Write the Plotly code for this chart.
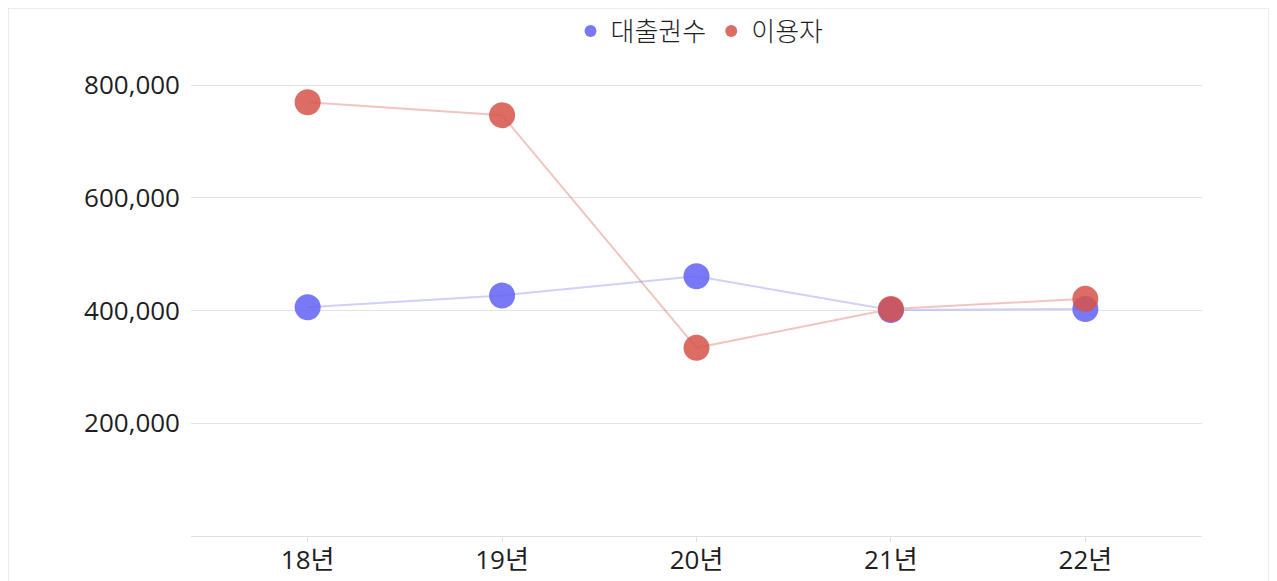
import plotly.graph_objects as go

categories = ["18년", "19년", "20년", "21년", "22년"]
loans = [406000, 427000, 461000, 401000, 403000]
users = [770000, 747000, 334000, 403000, 421000]
series_names = ["대출권수", "이용자"]
y_tick_vals = [200000, 400000, 600000, 800000]
y_tick_text = ["200,000", "400,000", "600,000", "800,000"]

FONT = "Open Sans, Noto Sans CJK KR"
blue = "rgba(98,98,245,0.85)"
red = "rgba(214,84,74,0.85)"
blue_line = "rgba(120,120,240,0.35)"
red_line = "rgba(220,110,95,0.4)"

xs = list(range(len(categories)))
fig = go.Figure()
for vals, name, mc, lc in [(loans, series_names[0], blue, blue_line), (users, series_names[1], red, red_line)]:
    fig.add_trace(go.Scatter(x=xs, y=vals, mode="lines", line=dict(color=lc, width=2),
                             showlegend=False, hoverinfo="skip"))
for vals, name, mc, lc in [(loans, series_names[0], blue, blue_line), (users, series_names[1], red, red_line)]:
    fig.add_trace(go.Scatter(x=xs, y=vals, mode="markers", name=name,
                             marker=dict(color=mc, size=26, line=dict(width=0))))

W, H = 1262, 573
L, R, T, B = 183, 68, 10, 45
pw, ph = W - L - R, H - T - B
tick_font = dict(family=FONT, size=26, color="#1e1e1e", weight=400)
fig.update_layout(
    width=W, height=H,
    margin=dict(l=L, r=R, t=T, b=B, autoexpand=False),
    paper_bgcolor="white", plot_bgcolor="white",
    font=dict(family=FONT, size=25, color="#222"),
    legend=dict(orientation="h", x=0.503, xanchor="center", y=1 - 13 / ph, yanchor="middle",
                font=dict(family="Noto Sans CJK KR", size=26, color="#1e1e1e", weight=300),
                itemsizing="constant", bgcolor="rgba(0,0,0,0)"),
    xaxis=dict(range=[-0.6, 4.6], tickvals=xs, ticktext=categories, showgrid=False,
               showline=True, linecolor="#e0e0e0", linewidth=1, ticks="outside", ticklen=5,
               tickcolor="#e0e0e0", zeroline=False, tickfont=tick_font, automargin=False,
               ticklabelstandoff=-4),
    yaxis=dict(range=[0, 919500], tickvals=y_tick_vals, ticktext=y_tick_text, showgrid=True,
               gridcolor="#e3e3e3", gridwidth=1, zeroline=False, showline=False,
               ticks="", ticklabelstandoff=10, tickfont=tick_font, automargin=False),
    shapes=[dict(type="rect", xref="paper", yref="paper", x0=-L / pw, x1=1 + (R - 1) / pw,
                 y0=-0.2, y1=1 + T / ph, line=dict(color="#e6e6e6", width=1.5), layer="below")],
)
fig.write_html("out.html")
